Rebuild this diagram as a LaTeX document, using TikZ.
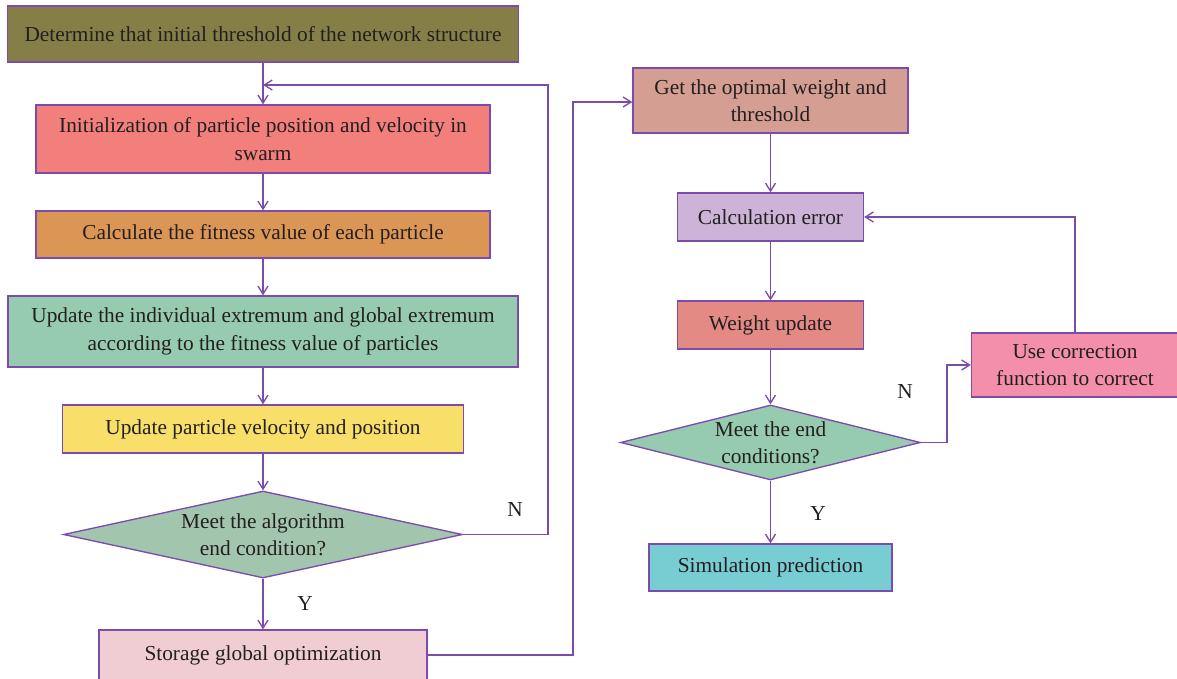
\documentclass[tikz,border=0pt]{standalone}
\usepackage{fontspec}
\setmainfont{Liberation Serif}
\usetikzlibrary{shapes.geometric,arrows.meta}
\newlength{\pu}\setlength{\pu}{0.75pt}
\definecolor{lineC}{HTML}{7B4BAE}
\definecolor{txtC}{HTML}{231F20}
\definecolor{cOlive}{HTML}{857F47}
\definecolor{cSalmon}{HTML}{F27F7B}
\definecolor{cOrange}{HTML}{DB9656}
\definecolor{cGreen}{HTML}{96CBAF}
\definecolor{cYellow}{HTML}{F7DF6A}
\definecolor{cDiaA}{HTML}{A2C6AD}
\definecolor{cPinkL}{HTML}{F0CDD2}
\definecolor{cRose}{HTML}{D49E92}
\definecolor{cLilac}{HTML}{CDB3D8}
\definecolor{cRed}{HTML}{E38A85}
\definecolor{cPink}{HTML}{F38FAA}
\definecolor{cCyan}{HTML}{77CDD1}
\begin{document}
\begin{tikzpicture}[x=0.75pt,y=-0.75pt,
  every node/.style={text=txtC,font=\fontsize{16}{20.5}\selectfont},
  box/.style={draw=lineC,line width=1pt,align=center,inner sep=0pt},
  dia/.style={diamond,draw=lineC,line width=1pt,align=center,inner sep=0pt},
  lbl/.style={inner sep=0pt},
  conn/.style={draw=lineC,line width=1pt,-{Straight Barb[length=6pt,width=7.5pt]}},
  plain/.style={draw=lineC,line width=1pt}]
\useasboundingbox (0,0) rectangle (1177,678);
% left column
\node[box,fill=cOlive,minimum width=511\pu,minimum height=56\pu] (b1) at (263,34) {Determine that initial threshold of the network structure};
\node[box,fill=cSalmon,minimum width=454\pu,minimum height=68\pu] (b2) at (263,139) {Initialization of particle position and velocity in\\swarm};
\node[box,fill=cOrange,minimum width=454\pu,minimum height=47\pu] (b3) at (263,234.5) {Calculate the fitness value of each particle};
\node[box,fill=cGreen,minimum width=510\pu,minimum height=71\pu] (b4) at (263,331.5) {Update the individual extremum and global extremum\\according to the fitness value of particles};
\node[box,fill=cYellow,minimum width=401\pu,minimum height=48\pu] (b5) at (263,429) {Update particle velocity and position};
\node[dia,fill=cDiaA,aspect=4.6,minimum width=399\pu,minimum height=87\pu] (d1) at (263,534.5) {Meet the algorithm\\end condition?};
\node[box,fill=cPinkL,minimum width=328\pu,minimum height=50\pu] (b6) at (263,655) {Storage global optimization};
% right column
\node[box,fill=cRose,minimum width=275\pu,minimum height=65\pu] (b7) at (770.5,100.5) {Get the optimal weight and\\threshold};
\node[box,fill=cLilac,minimum width=186\pu,minimum height=48\pu] (b8) at (770.5,217) {Calculation error};
\node[box,fill=cRed,minimum width=186\pu,minimum height=48\pu] (b9) at (770.5,325) {Weight update};
\node[dia,fill=cGreen,aspect=4,minimum width=300\pu,minimum height=75\pu] (d2) at (770.5,442.5) {Meet the end\\conditions?};
\node[box,fill=cPink,minimum width=207\pu,minimum height=64\pu] (b10) at (1075,365) {Use correction\\function to correct};
\node[box,fill=cCyan,minimum width=243\pu,minimum height=47\pu] (b11) at (770.5,567.5) {Simulation prediction};
% labels
\node[lbl] (n1) at (515,510) {N};
\node[lbl] (y1) at (305,604) {Y};
\node[lbl] (n2) at (905,392) {N};
\node[lbl] (y2) at (818,514) {Y};
% connectors left
\draw[conn] (b1) -- (b2);
\draw[conn] (b2) -- (b3);
\draw[conn] (b3) -- (b4);
\draw[conn] (b4) -- (b5);
\draw[conn] (b5) -- (d1);
\draw[conn] (d1) -- (b6);
\coordinate (loopEnd) at (263,85);
\draw[conn] (d1.east) -- (548,534.5) -- (548,85) -- (loopEnd);
\draw[conn] (b6.east) -- (573,655) -- (573,102) -- (b7.west |- 0,102);
% connectors right
\draw[conn] (b7) -- (b8);
\draw[conn] (b8) -- (b9);
\draw[conn] (b9) -- (d2);
\draw[conn] (d2) -- (b11);
\draw[conn] (d2.east) -- (947,442.5) -- (947,365) -- (b10.west);
\draw[conn] (b10.north) -- (b10.north |- b8.east) -- (b8.east);
\end{tikzpicture}
\end{document}
